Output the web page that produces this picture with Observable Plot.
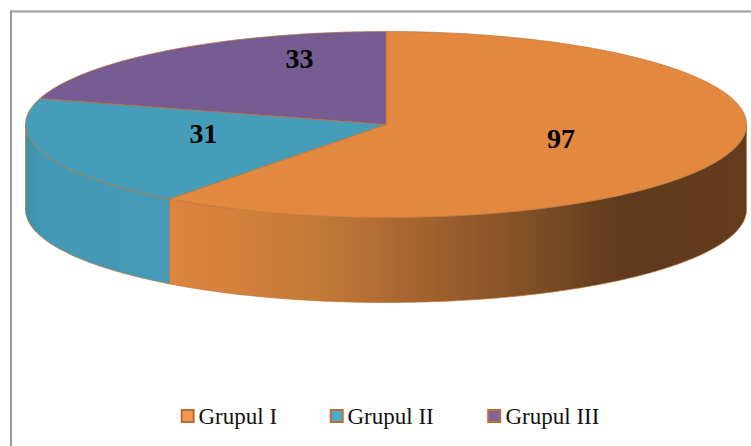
<!DOCTYPE html>
<html>
<head>
<meta charset="utf-8">
<style>html,body{margin:0;padding:0;background:#fff}svg{display:block}</style>
<script src="https://cdn.jsdelivr.net/npm/d3@7"></script>
<script src="https://cdn.jsdelivr.net/npm/@observablehq/plot@0.6"></script>
</head>
<body>
<div id="chart"></div>
<script>
const categories = ["Grupul I", "Grupul II", "Grupul III"];
const values = [97, 31, 33];
const topColors = ["#E3883F", "#459DB9", "#775C92"];
const swatchColors = ["#F79646", "#4BACC6", "#8064A2"];

// layout of the tilted pie, in pixels of the picture
const cx = 385.5, cy = 124, rx = 360.5, ry = 93, depth = 85, labelR = 0.51;
const labelDx = [0.5, -8, 24], labelDy = [0, -5, -28];
const legendSwatch = [181.7, 330.7, 488.2], legendText = [198, 347, 505], legendY = 416;

const total = d3.sum(values);
const TAU = Math.PI * 2;
const px = (a, r = 1) => cx + rx * r * Math.sin(a);
const py = (a, r = 1, z = 0) => cy - ry * r * Math.cos(a) + z;
const arcAngles = (a0, a1) => {
  const n = Math.max(2, Math.ceil(Math.abs(a1 - a0) * 80));
  return d3.range(n + 1).map(i => a0 + (a1 - a0) * i / n);
};

let acc = 0;
const slices = values.map((v, i) => {
  const a0 = acc / total * TAU;
  acc += v;
  return {i, name: categories[i], value: v, a0, a1: acc / total * TAU};
});

const topPts = s => [
  {x: cx, y: cy},
  ...arcAngles(s.a0, s.a1).map(a => ({x: px(a), y: py(a)})),
  {x: cx, y: cy}
];
const sidePts = (a0, a1) => {
  const as = arcAngles(a0, a1);
  const upper = as.map(a => ({x: px(a), y: py(a)}));
  const lower = as.slice().reverse().map(a => ({x: px(a), y: py(a, 1, depth)}));
  return [...upper, ...lower, upper[0]];
};

// visible wall: only the front half of the rim (from pi/2 to 3pi/2)
const orangeSide = sidePts(Math.PI / 2, slices[0].a1);
const tealSide = sidePts(slices[0].a1, 3 * Math.PI / 2);

const labels = slices.map(s => {
  const m = (s.a0 + s.a1) / 2;
  return {x: px(m, labelR) + labelDx[s.i], y: py(m, labelR) + labelDy[s.i], text: String(s.value)};
});

const legend = categories.map((name, i) => ({name, fill: swatchColors[i], sx: legendSwatch[i], tx: legendText[i]}));

const edge = "#BC763A";
const defs = () => {
  const ns = "http://www.w3.org/2000/svg";
  const d = document.createElementNS(ns, "defs");
  const grad = (id, stops) => {
    const g = document.createElementNS(ns, "linearGradient");
    g.setAttribute("id", id);
    for (const [o, c] of stops) {
      const s = document.createElementNS(ns, "stop");
      s.setAttribute("offset", o);
      s.setAttribute("stop-color", c);
      g.appendChild(s);
    }
    d.appendChild(g);
  };
  grad("orangeSideFill", [[0, "#DE853F"], [0.25, "#C57A38"], [0.49, "#995D2C"], [0.64, "#7D4E26"], [0.78, "#5F3A1C"], [1, "#633C1D"]]);
  grad("tealSideFill", [[0, "#3F8FA8"], [0.1, "#4299B5"], [1, "#4499B6"]]);
  return d;
};

const line = (pts, fill, strokeWidth = 0.7) =>
  Plot.line(pts, {x: "x", y: "y", fill, stroke: edge, strokeWidth, curve: "linear"});

const plot = Plot.plot({
  width: 751,
  height: 446,
  margin: 0,
  x: {type: "linear", domain: [0, 751], range: [0, 751], axis: null},
  y: {type: "linear", domain: [0, 446], range: [0, 446], axis: null},
  marks: [
    defs,
    Plot.ruleX([10.5], {y1: 10, y2: 446, stroke: "#9A9A9A", strokeWidth: 2}),
    Plot.ruleY([11], {x1: 10, x2: 751, stroke: "#9A9A9A", strokeWidth: 2}),
    line(orangeSide, "url(#orangeSideFill)"),
    line(tealSide, "url(#tealSideFill)"),
    ...slices.map(s => line(topPts(s), topColors[s.i])),
    Plot.text(labels, {x: "x", y: "y", text: "text", fontFamily: "Liberation Serif", fontWeight: "bold", fontSize: 28, fill: "#000"}),
    Plot.rect(legend, {x1: "sx", x2: d => d.sx + 12, y1: legendY - 6, y2: legendY + 6, fill: "fill", stroke: "#B86F35", strokeWidth: 2}),
    Plot.text(legend, {x: "tx", y: legendY, text: "name", textAnchor: "start", fontFamily: "Liberation Serif", fontSize: 23, fill: "#111"})
  ],
  color: {type: "identity"}
});
document.getElementById("chart").appendChild(plot);
</script>
</body>
</html>
